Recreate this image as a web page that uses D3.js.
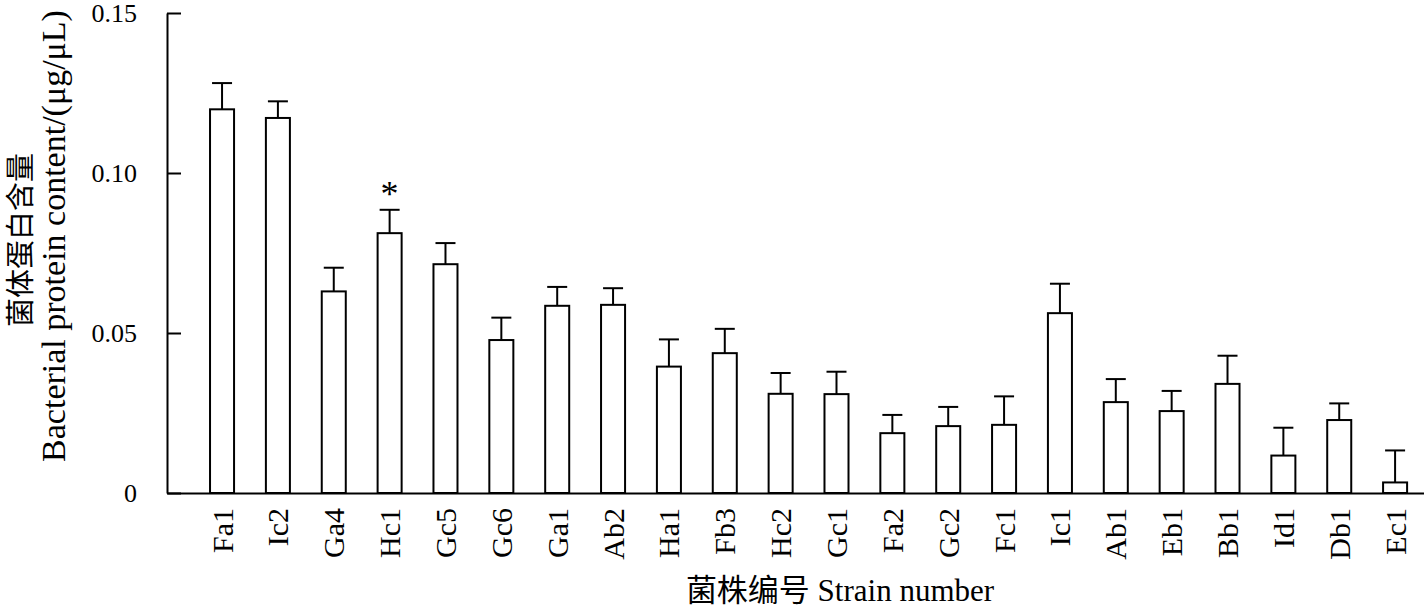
<!DOCTYPE html>
<html>
<head>
<meta charset="utf-8">
<script src="https://cdn.jsdelivr.net/npm/d3@7"></script>
<style>
  html, body { margin: 0; padding: 0; background: #fff; }
  svg { display: block; }
  text { font-family: "Liberation Serif", "Times New Roman", "Noto Sans CJK SC", serif; fill: #000; }
</style>
</head>
<body>
<svg id="chart" width="1424" height="609"></svg>
<script>
const categories = ["Fa1","Ic2","Ga4","Hc1","Gc5","Gc6","Ga1","Ab2","Ha1","Fb3","Hc2","Gc1","Fa2","Gc2","Fc1","Ic1","Ab1","Eb1","Bb1","Id1","Db1","Ec1"];
const means = [0.1199,0.1172,0.0630,0.0812,0.0715,0.0478,0.0585,0.0588,0.0395,0.0437,0.0310,0.0309,0.0187,0.0209,0.0213,0.0562,0.0284,0.0256,0.0341,0.0117,0.0228,0.0033];
const errors = [0.0082,0.0052,0.0074,0.0073,0.0066,0.0070,0.0059,0.0052,0.0085,0.0076,0.0065,0.0070,0.0057,0.0060,0.0089,0.0092,0.0072,0.0063,0.0088,0.0087,0.0052,0.0100];
const marks = ["","","","*","","","","","","","","","","","","","","","","","",""];
const yTickValues = [0, 0.05, 0.10, 0.15];
const yTickLabels = ["0", "0.05", "0.10", "0.15"];
const xTitle = "菌株编号 Strain number";
const yTitleCN = "菌体蛋白含量";
const yTitleEN = "Bacterial protein content/(μg/μL)";

const data = categories.map((c, i) => ({ cat: c, mean: means[i], err: errors[i], mark: marks[i] }));

const svg = d3.select("#chart");
const x0 = 167, x1 = 1424, yTop = 13, yBottom = 493;

const x = d3.scaleBand().domain(categories).range([x0, x1])
  .paddingInner(0.57).paddingOuter(0.5365).align(0.718);
const y = d3.scaleLinear().domain([0, 0.15]).range([yBottom, yTop]);

// bars
svg.append("g").selectAll("rect").data(data).join("rect")
  .attr("x", d => x(d.cat))
  .attr("y", d => y(d.mean))
  .attr("width", x.bandwidth())
  .attr("height", d => y(0) - y(d.mean))
  .attr("fill", "#fff")
  .attr("stroke", "#000")
  .attr("stroke-width", 2);

// error bars
const eb = svg.append("g").attr("stroke", "#000").attr("stroke-width", 2);
eb.selectAll("line.v").data(data).join("line").attr("class", "v")
  .attr("x1", d => x(d.cat) + x.bandwidth() / 2)
  .attr("x2", d => x(d.cat) + x.bandwidth() / 2)
  .attr("y1", d => y(d.mean))
  .attr("y2", d => y(d.mean + d.err));
eb.selectAll("line.c").data(data).join("line").attr("class", "c")
  .attr("x1", d => x(d.cat) + x.bandwidth() / 2 - 10)
  .attr("x2", d => x(d.cat) + x.bandwidth() / 2 + 10)
  .attr("y1", d => y(d.mean + d.err))
  .attr("y2", d => y(d.mean + d.err));

// significance marks
svg.append("g").selectAll("text").data(data.filter(d => d.mark)).join("text")
  .attr("x", d => x(d.cat) + x.bandwidth() / 2)
  .attr("y", d => y(d.mean + d.err) - 4)
  .attr("text-anchor", "middle")
  .style("font-size", "36px")
  .text(d => d.mark);

// y axis
const yAxis = d3.axisLeft(y).tickValues(yTickValues)
  .tickFormat((d, i) => yTickLabels[i])
  .tickSizeInner(-14).tickSizeOuter(0).tickPadding(30);
const gy = svg.append("g").attr("transform", `translate(${x0},0)`).call(yAxis);
gy.selectAll("path, line").attr("stroke", "#000").attr("stroke-width", 2);
gy.selectAll("text").style("font-size", "26px").attr("font-family", null);

// x axis
const xAxis = d3.axisBottom(x).tickSize(0).tickSizeOuter(0);
const gx = svg.append("g").attr("transform", `translate(0,${yBottom})`).call(xAxis);
gx.select("path").attr("stroke", "#000").attr("stroke-width", 2);
gx.selectAll("text")
  .attr("transform", "rotate(-90)")
  .attr("x", -15).attr("y", 0).attr("dy", "0.35em")
  .attr("text-anchor", "end")
  .attr("font-family", null)
  .style("font-size", "30px");

// titles
svg.append("text").attr("x", 840).attr("y", 601)
  .attr("text-anchor", "middle").style("font-size", "31px").text(xTitle);

svg.append("text").attr("transform", "translate(31,240) rotate(-90)")
  .attr("text-anchor", "middle").style("font-size", "29px").text(yTitleCN);

svg.append("text").attr("transform", "translate(65,236) rotate(-90)")
  .attr("text-anchor", "middle").style("font-size", "34px").text(yTitleEN);
</script>
</body>
</html>
